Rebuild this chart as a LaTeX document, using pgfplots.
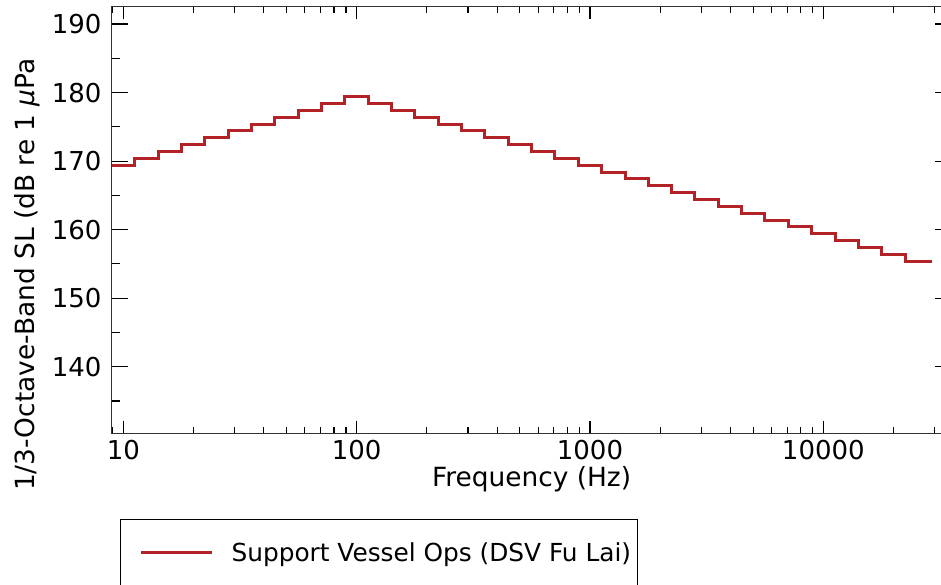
\documentclass[border=0pt]{standalone}
\usepackage{fontspec}
\setmainfont{DejaVu Sans}
\usepackage{pgfplots}
\pgfplotsset{compat=1.18}
\definecolor{linered}{RGB}{178,34,38}
\begin{document}
\begin{tikzpicture}
\begin{axis}[
  font=\fontsize{26bp}{31bp}\selectfont,
  scale only axis,
  width=840.2bp, height=426.6bp,
  xmode=log,
  xmin=8.902, xmax=35500,
  ymin=130.28, ymax=192.53,
  xtick={10,100,1000,10000},
  xticklabels={10,100,1000,10000},
  minor xtick={9,20,30,40,50,60,70,80,90,200,300,400,500,600,700,800,900,2000,3000,4000,5000,6000,7000,8000,9000,20000,30000},
  ytick={140,150,160,170,180,190},
  minor ytick={135,145,155,165,175,185},
  tick align=inside,
  ticks=both,
  x tick style={/pgfplots/major tick length=12bp, /pgfplots/minor tick length=6bp},
  y tick style={/pgfplots/major tick length=16.7bp, /pgfplots/minor tick length=8.3bp},
  tick style={black, line width=1.1bp},
  axis line style={black!80, line width=1.2bp},
  /pgf/number format/assume math mode=true,
  yticklabel style={inner sep=0pt, xshift=-9.8bp},
  xticklabel style={inner sep=0pt, yshift=-6.7bp},
  xlabel={Frequency (Hz)},
  xlabel style={at={(axis description cs:0.5,-0.1242)}, anchor=base, inner sep=0pt, font=\fontsize{26.4bp}{31bp}\selectfont},
  ylabel={1/3-Octave-Band SL (dB re 1 \textit{μ}Pa},
  ylabel style={at={(axis description cs:-0.0913,-0.1353)}, anchor=base west, inner sep=0pt, font=\fontsize{26.4bp}{31bp}\selectfont},
  legend style={at={(axis description cs:0.0107,-0.2009)}, anchor=north west,
    draw=black, line width=0.9bp, inner xsep=19bp, inner ysep=23bp,
    column sep=18bp, nodes={inner sep=0pt}, font=\fontsize{24.8bp}{30bp}\selectfont},
  legend image code/.code={\draw[#1, line width=2.6bp] (0bp,0bp) -- (71bp,0bp);},
]
\addplot[const plot, linered, line width=3bp] coordinates {
(8.913,169.4) (11.22,170.4) (14.13,171.4) (17.78,172.4) (22.39,173.4)
(28.18,174.4) (35.48,175.4) (44.67,176.4) (56.23,177.4) (70.79,178.4)
(89.13,179.4) (112.2,178.4) (141.3,177.4) (177.8,176.4) (223.9,175.4)
(281.8,174.4) (354.8,173.4) (446.7,172.4) (562.3,171.4) (707.9,170.4)
(891.3,169.4) (1122,168.4) (1413,167.4) (1778,166.4) (2239,165.4)
(2818,164.4) (3548,163.4) (4467,162.4) (5623,161.4) (7079,160.4)
(8913,159.4) (11220,158.4) (14130,157.4) (17780,156.4) (22390,155.4)
(29300,155.4)
};
\addlegendentry{Support Vessel Ops (DSV Fu Lai)\hspace*{-13bp}}
\end{axis}
\pgfresetboundingbox
\useasboundingbox (-111.5bp,-151.7bp) rectangle (829.5bp,433.3bp);
\end{tikzpicture}
\end{document}
